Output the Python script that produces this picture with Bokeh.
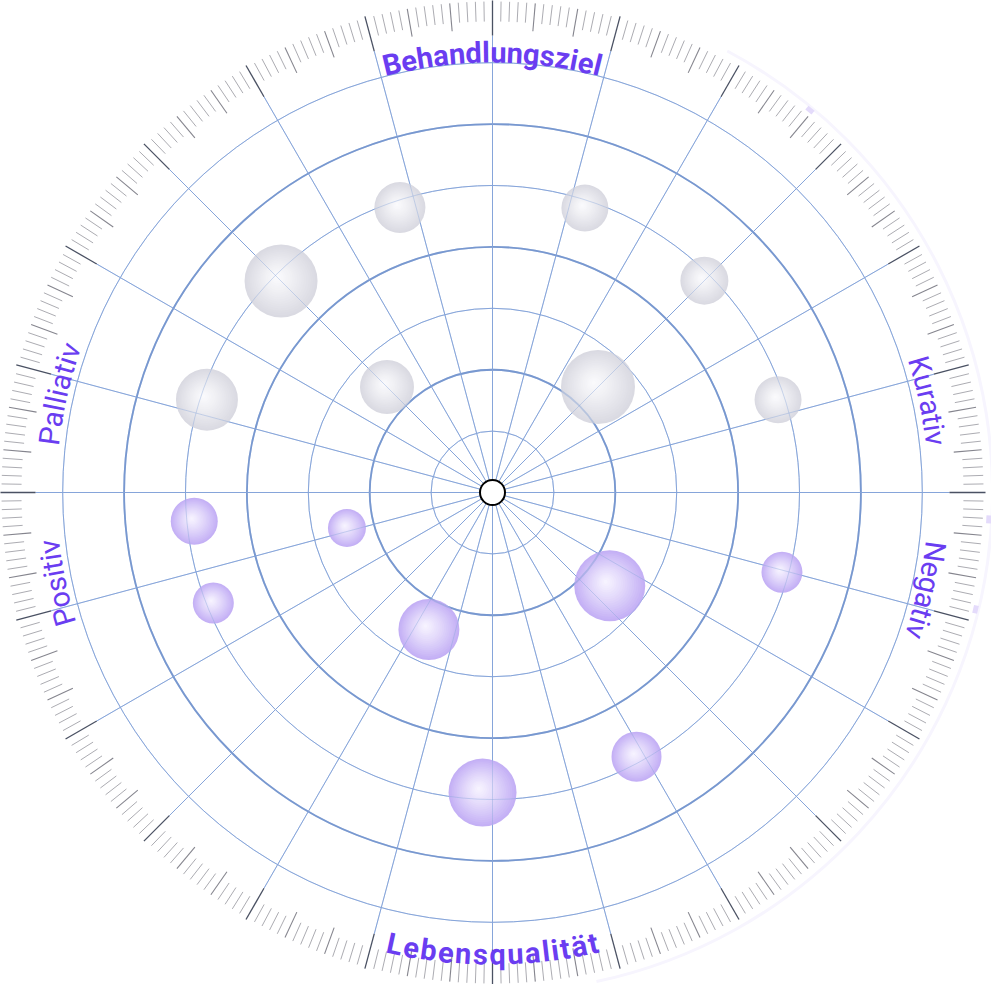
import math
import numpy as np
from bokeh.plotting import figure
from bokeh.models import Range1d
from bokeh.core.properties import value
from bokeh.embed import file_html
from bokeh.resources import INLINE

# ---------------- data ----------------
ring_levels = [1, 2, 3, 4, 5, 6, 7]
major_rings = [2, 4, 6]
spoke_angles = list(range(0, 360, 15))

# bubbles: angle (deg, counter-clockwise from east), distance (ring units), radius (px)
gray_angle = [108, 135, 162, 135, 72, 45, 45, 18]
gray_dist = [4.88, 4.87, 4.89, 2.43, 4.87, 4.88, 2.43, 4.89]
gray_size = [25.5, 36.5, 31, 27, 23.5, 24, 37, 23.5]

purple_angle = [185.5, 193.7, 201.6, 245.1, 268.1, 321.5, 344.6, 298.6]
purple_dist = [4.88, 2.44, 4.89, 2.46, 4.89, 2.44, 4.89, 4.90]
purple_size = [23.5, 19, 20.5, 30.5, 34, 35.5, 20.5, 25]

marker_angle = [50.3, -3.1, -13.6]

bold_labels = ["Behandlungsziel", "Lebensqualität"]
bold_label_angle = [90, 270]
side_labels = ["Kurativ", "Negativ", "Palliativ", "Positiv"]
side_label_angle = [11.9, -12.7, 167.2, 191.7]

# ---------------- layout / style ----------------
RING = 61.4
SPOKE_END = 457
LINE_THIN = "#86a5da"
LINE_THICK = "#7898d0"
PURPLE_TXT = "#6a3df1"

p = figure(width=991, height=984, x_range=Range1d(-492, 499), y_range=Range1d(-492, 492),
           output_backend="svg", toolbar_location=None, min_border=0)
p.axis.visible = False
p.grid.visible = False
p.outline_line_color = None
p.background_fill_color = "white"
p.border_fill_color = "white"


def draw_grid(alpha):
    thin = [r * RING for r in ring_levels if r not in major_rings]
    thick = [r * RING for r in ring_levels if r in major_rings]
    p.circle(x=[0] * len(thin), y=[0] * len(thin), radius=thin, fill_color=None,
             line_color=LINE_THIN, line_width=1, line_alpha=alpha)
    p.circle(x=[0] * len(thick), y=[0] * len(thick), radius=thick, fill_color=None,
             line_color=LINE_THICK, line_width=1.8, line_alpha=alpha)
    a = np.radians(spoke_angles)
    p.segment(x0=[0] * len(a), y0=[0] * len(a), x1=list(SPOKE_END * np.cos(a)),
              y1=list(SPOKE_END * np.sin(a)), line_color=LINE_THIN, line_width=1,
              line_alpha=alpha)


draw_grid(1.0)

# faint outer arc and markers
p.arc(x=0, y=0, radius=500, start_angle=math.radians(-78), end_angle=math.radians(62),
      line_color="#f7f5fe", line_width=3)
ma = np.radians(marker_angle)
p.rect(x=list(497 * np.cos(ma)), y=list(497 * np.sin(ma)), width=8, height=5,
       angle=list(ma + math.pi / 2), fill_color="#e4dbfb", line_color=None)


# bubbles with radial gradient (stacked discs)
def hex_mix(c0, c1, t):
    r = [round(c0[i] + (c1[i] - c0[i]) * t) for i in range(3)]
    return "#%02x%02x%02x" % tuple(r)


def draw_bubbles(angles, dists, sizes, edge, center):
    th = np.radians(angles)
    bx = np.array(dists) * RING * np.cos(th)
    by = np.array(dists) * RING * np.sin(th)
    R = np.array(sizes, dtype=float)
    N = 18
    for j in range(N):
        f = 1 - j / N
        col = hex_mix(center, edge, f ** 1.15)
        cx = bx - (1 - f) * 0.12 * R
        cy = by + (1 - f) * 0.12 * R
        p.circle(x=list(cx), y=list(cy), radius=list(R * f), fill_color=col,
                 line_color=None)


draw_bubbles(gray_angle, gray_dist, gray_size, (218, 218, 226), (251, 251, 253))
draw_bubbles(purple_angle, purple_dist, purple_size, (196, 176, 245), (248, 245, 255))

# grid seen through the translucent bubbles
draw_grid(0.4)

# tick ring
tick_deg = np.arange(360)
is_major = tick_deg % 15 == 0
is_mid = (tick_deg % 5 == 0) & ~is_major
r_in = np.where(is_major, SPOKE_END, np.where(is_mid, 463, 471))
r_out = np.where(is_major, 493, 491)
tcol = np.where(is_major, "#4a5163", np.where(is_mid, "#85858e", "#acacb2"))
tw = np.where(is_major, 1.3, np.where(is_mid, 1.1, 1.0))
tr = np.radians(tick_deg)
p.segment(x0=list(r_in * np.cos(tr)), y0=list(r_in * np.sin(tr)),
          x1=list(r_out * np.cos(tr)), y1=list(r_out * np.sin(tr)),
          line_color=list(tcol), line_width=list(tw))

# curved labels
W_REG = {"K": .632, "u": .551, "r": .339, "a": .544, "t": .327, "i": .243, "v": .484,
         "N": .713, "e": .529, "g": .560, "P": .632, "l": .243, "o": .570, "s": .516}
W_BOLD = {"B": .624, "e": .532, "h": .553, "a": .538, "n": .553, "d": .558, "l": .267,
          "u": .553, "g": .558, "s": .518, "z": .507, "i": .267, "L": .540, "b": .558,
          "q": .558, "t": .342, "ä": .538}


def curved(text, theta_c, r_base, r_mid, span, clockwise, size, widths, style):
    w = [widths.get(ch, 0.55) * size for ch in text]
    extra = (span - sum(w)) / (len(text) - 1)
    cur = -span / 2
    xs, ys, angs = [], [], []
    for wi in w:
        s = cur + wi / 2
        cur += wi + extra
        if clockwise:
            th = math.radians(theta_c) - s / r_mid
            rot = th - math.pi / 2
        else:
            th = math.radians(theta_c) + s / r_mid
            rot = th + math.pi / 2
        xs.append(r_base * math.cos(th))
        ys.append(r_base * math.sin(th))
        angs.append(rot)
    p.text(x=xs, y=ys, text=list(text), angle=angs, text_align="center",
           text_baseline="alphabetic", text_font=value("Roboto"),
           text_font_style=style, text_font_size=value("%dpx" % size),
           text_color=PURPLE_TXT)


curved(bold_labels[0], bold_label_angle[0], 440, 451, 226, True, 29, W_BOLD, "bold")
curved(bold_labels[1], bold_label_angle[1], 462, 451, 208, False, 29, W_BOLD, "bold")
side_spans = [92, 101, 106, 89]
for lab, ang, sp in zip(side_labels, side_label_angle, side_spans):
    curved(lab, ang, 446, 455, sp, True, 29, W_REG, "normal")

# centre marker
p.circle(x=[0], y=[0], radius=12.5, fill_color="white", line_color="black", line_width=2)

open("out.html", "w").write(file_html(p, INLINE))
